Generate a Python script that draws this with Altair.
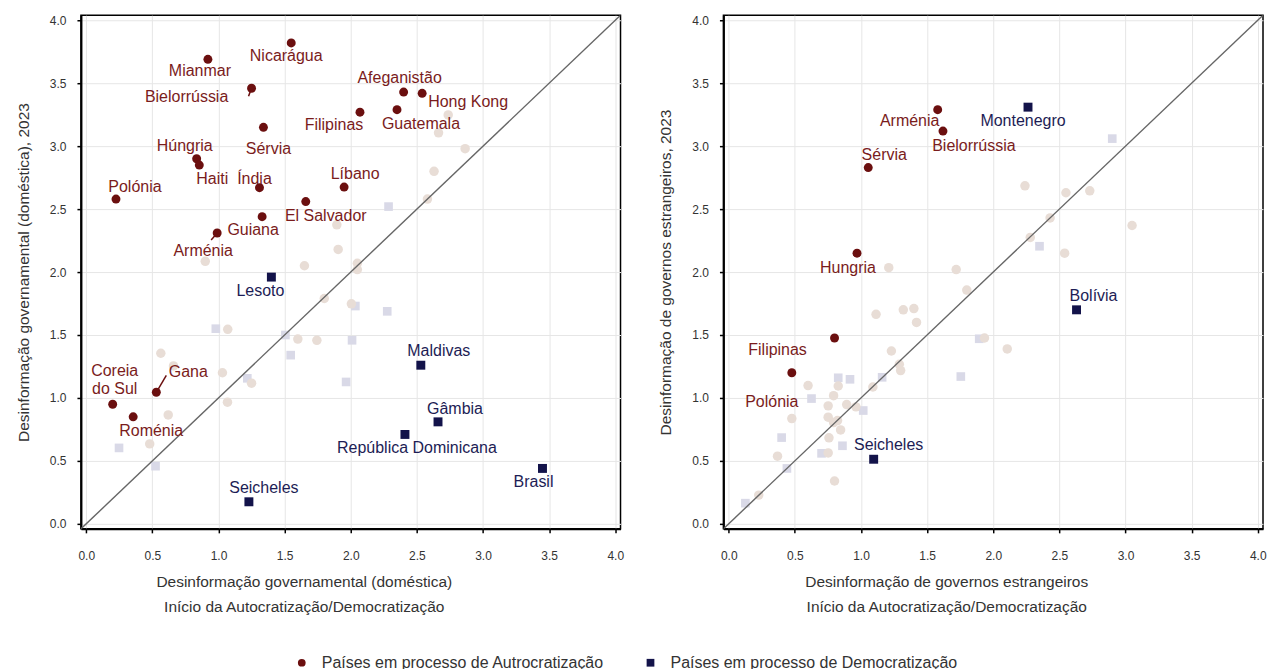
import altair as alt
import pandas as pd

AUTO = "Países em processo de Autrocratização"
DEMO = "Países em processo de Democratização"

# ---------------- Left panel: domestic disinformation ----------------
L_AUTO_NAMES = ["Nicarágua", "Mianmar", "Bielorrússia", "Sérvia", "Filipinas", "Afeganistão",
                "Hong Kong", "Guatemala", "Húngria", "Haiti", "Índia", "Líbano", "Polónia",
                "El Salvador", "Guiana", "Arménia", "Coreia do Sul", "Gana", "Roménia"]
L_AUTO_X = [1.55, 0.92, 1.25, 1.34, 2.07, 2.40, 2.54, 2.35, 0.835, 0.855, 1.31, 1.95, 0.225,
            1.66, 1.33, 0.99, 0.20, 0.53, 0.355]
L_AUTO_Y = [3.82, 3.69, 3.46, 3.15, 3.27, 3.43, 3.42, 3.29, 2.90, 2.85, 2.67, 2.675, 2.58,
            2.56, 2.44, 2.31, 0.95, 1.045, 0.85]

L_DEMO_NAMES = ["Lesoto", "Seicheles", "Maldivas", "Gâmbia", "República Dominicana", "Brasil"]
L_DEMO_X = [1.40, 1.23, 2.53, 2.66, 2.41, 3.45]
L_DEMO_Y = [1.96, 0.175, 1.26, 0.81, 0.71, 0.44]

L_BG_CIRCLE_X = [2.664, 2.865, 2.63, 2.58, 1.895, 1.905, 2.05, 2.05, 0.90, 1.65, 1.80, 2.005,
                 1.07, 1.60, 1.744, 0.564, 0.66, 1.03, 1.25, 1.068, 0.62, 0.48, 2.737]
L_BG_CIRCLE_Y = [3.106, 2.98, 2.80, 2.58, 2.375, 2.18, 2.07, 2.02, 2.085, 2.05, 1.79, 1.748,
                 1.545, 1.468, 1.458, 1.355, 1.254, 1.20, 1.117, 0.966, 0.865, 0.635, 3.248]
L_BG_SQUARE_X = [2.035, 0.98, 1.506, 2.01, 1.546, 1.218, 1.965, 0.248, 0.524, 2.276, 2.286]
L_BG_SQUARE_Y = [1.73, 1.55, 1.50, 1.458, 1.34, 1.156, 1.127, 0.603, 0.458, 1.688, 2.52]

# ---------------- Right panel: foreign-government disinformation ----------------
R_AUTO_NAMES = ["Arménia", "Bielorrússia", "Sérvia", "Hungria", "Filipinas", "Polónia"]
R_AUTO_X = [1.58, 1.62, 1.055, 0.97, 0.80, 0.477]
R_AUTO_Y = [3.29, 3.12, 2.83, 2.15, 1.476, 1.20]

R_DEMO_NAMES = ["Montenegro", "Bolívia", "Seicheles"]
R_DEMO_X = [2.263, 2.63, 1.096]
R_DEMO_Y = [3.31, 1.70, 0.513]

R_BG_CIRCLE_X = [2.24, 2.55, 2.73, 2.43, 3.05, 2.28, 2.54, 1.72, 1.21, 1.80, 1.114, 1.32, 1.40,
                 1.42, 1.934, 1.23, 1.29, 1.30, 1.09, 2.106, 0.60, 0.828, 0.793, 0.752, 0.892,
                 0.962, 0.477, 0.752, 0.793, 0.823, 0.846, 0.758, 0.752, 0.369, 0.80, 0.227]
R_BG_CIRCLE_Y = [2.685, 2.63, 2.645, 2.43, 2.37, 2.275, 2.15, 2.02, 2.035, 1.857, 1.664, 1.70,
                 1.71, 1.60, 1.476, 1.373, 1.267, 1.217, 1.087, 1.389, 1.098, 1.095, 1.018,
                 0.937, 0.947, 0.929, 0.836, 0.847, 0.804, 0.82, 0.746, 0.683, 0.563, 0.537,
                 0.34, 0.228]
R_BG_SQUARE_X = [2.90, 2.35, 1.894, 1.16, 1.755, 0.828, 0.917, 0.626, 1.017, 0.40, 0.86, 0.702,
                 0.44, 0.126]
R_BG_SQUARE_Y = [3.06, 2.205, 1.47, 1.164, 1.17, 1.16, 1.148, 0.995, 0.90, 0.685, 0.62, 0.56,
                 0.44, 0.164]

TICKS = [0.0, 0.5, 1.0, 1.5, 2.0, 2.5, 3.0, 3.5, 4.0]

# ---------------- styling (label offsets in pixels) ----------------
L_OFFSETS = {
    "Nicarágua": (-5, 13), "Mianmar": (-8, 12), "Bielorrússia": (-65, 9), "Sérvia": (5, 22),
    "Filipinas": (-26, 13), "Afeganistão": (-4, -14), "Hong Kong": (46, 9), "Guatemala": (24, 14),
    "Húngria": (-12, -13), "Haiti": (13, 14), "Índia": (-5, -9), "Líbano": (11, -13),
    "Polónia": (19, -12), "El Salvador": (20, 14), "Guiana": (-9, 13), "Arménia": (-14, 18),
    "Coreia do Sul": (2, -33), "Gana": (32, -20), "Roménia": (18, 14),
    "Lesoto": (-11, 14), "Seicheles": (15, -14), "Maldivas": (18, -14), "Gâmbia": (17, -13),
    "República Dominicana": (12, 14), "Brasil": (-9, 14),
}
R_OFFSETS = {
    "Arménia": (-28, 11), "Bielorrússia": (31, 15), "Sérvia": (16, -13), "Hungria": (-9, 15),
    "Filipinas": (-57, 12), "Polónia": (-20, 29),
    "Montenegro": (-5, 14), "Bolívia": (17, -14), "Seicheles": (15, -14),
}
L_LEADERS = {"Gana": (10, -17), "Arménia": (-6, 7), "Bielorrússia": (-3, 8)}
R_LEADERS = {}
DISPLAY = {"Coreia do Sul": "Coreia\ndo Sul"}

RED = "#6b0f0f"
NAVY = "#13134a"
RED_TXT = "#7a1c1c"
NAVY_TXT = "#1d1d55"
BG_CIRCLE = "#e8ddd6"
BG_SQUARE = "#d9d9e7"

W, H = 540, 514
DOM = [-0.04, 4.04]
PXX = W / (DOM[1] - DOM[0])
PXY = H / (DOM[1] - DOM[0])
FONT = "Liberation Sans"


def panel(auto_n, auto_x, auto_y, demo_n, demo_x, demo_y, bcx, bcy, bsx, bsy,
          offsets, leaders, xtitle, ytitle):
    X = alt.X("x:Q", scale=alt.Scale(domain=DOM, nice=False, zero=False),
              axis=alt.Axis(title=xtitle, values=TICKS, format=".1f", titleX=223,
                            titleAlign="center", titleLineHeight=25))
    Y = alt.Y("y:Q", scale=alt.Scale(domain=DOM, nice=False, zero=False),
              axis=alt.Axis(title=ytitle, values=TICKS, format=".1f"))

    bg_sq = alt.Chart(pd.DataFrame({"x": bsx, "y": bsy})).mark_point(
        shape="square", filled=True, opacity=1, size=75, color=BG_SQUARE
    ).encode(x=X, y=Y)
    bg_ci = alt.Chart(pd.DataFrame({"x": bcx, "y": bcy})).mark_point(
        shape="circle", filled=True, opacity=1, size=90, color=BG_CIRCLE
    ).encode(x=X, y=Y)
    diag = alt.Chart(pd.DataFrame({"x": DOM, "y": DOM})).mark_line(
        color="#666666", strokeWidth=1.4, clip=True
    ).encode(x=X, y=Y)

    names = auto_n + demo_n
    xs = auto_x + demo_x
    ys = auto_y + demo_y
    groups = [AUTO] * len(auto_n) + [DEMO] * len(demo_n)
    hl_df = pd.DataFrame({"x": xs, "y": ys, "grupo": groups, "nome": names})

    layers = [bg_sq, bg_ci, diag]

    for n, (ldx, ldy) in leaders.items():
        i = names.index(n)
        col = RED if groups[i] == AUTO else NAVY
        ldf = pd.DataFrame({"x": [xs[i]], "y": [ys[i]],
                            "x2": [xs[i] + ldx / PXX], "y2": [ys[i] - ldy / PXY]})
        layers.append(alt.Chart(ldf).mark_rule(color=col, strokeWidth=1.5).encode(
            x=X, y=Y, x2="x2:Q", y2="y2:Q"))

    legend = alt.Legend(title=None, orient="none", legendX=213, legendY=640,
                        direction="horizontal", labelFontSize=16, labelColor="#333333",
                        symbolSize=60, labelOffset=12, columnPadding=38, labelLimit=400)
    hl = alt.Chart(hl_df).mark_point(filled=True, opacity=1, size=80).encode(
        x=X, y=Y,
        color=alt.Color("grupo:N", scale=alt.Scale(domain=[AUTO, DEMO], range=[RED, NAVY]),
                        legend=legend),
        shape=alt.Shape("grupo:N", scale=alt.Scale(domain=[AUTO, DEMO],
                                                   range=["circle", "square"]),
                        legend=legend),
    )
    layers.append(hl)

    for i, n in enumerate(names):
        dx, dy = offsets[n]
        col = RED_TXT if groups[i] == AUTO else NAVY_TXT
        tdf = pd.DataFrame({"x": [xs[i]], "y": [ys[i]], "t": [DISPLAY.get(n, n)]})
        layers.append(alt.Chart(tdf).mark_text(
            dx=dx, dy=dy, fontSize=16, color=col, align="center", baseline="middle",
            lineBreak="\n", lineHeight=18, font=FONT
        ).encode(x=X, y=Y, text="t:N"))

    return alt.layer(*layers).properties(width=W, height=H)


left = panel(L_AUTO_NAMES, L_AUTO_X, L_AUTO_Y, L_DEMO_NAMES, L_DEMO_X, L_DEMO_Y,
             L_BG_CIRCLE_X, L_BG_CIRCLE_Y, L_BG_SQUARE_X, L_BG_SQUARE_Y,
             L_OFFSETS, L_LEADERS,
             ["Desinformação governamental (doméstica)", "Início da Autocratização/Democratização"],
             "Desinformação governamental (doméstica), 2023")
right = panel(R_AUTO_NAMES, R_AUTO_X, R_AUTO_Y, R_DEMO_NAMES, R_DEMO_X, R_DEMO_Y,
              R_BG_CIRCLE_X, R_BG_CIRCLE_Y, R_BG_SQUARE_X, R_BG_SQUARE_Y,
              R_OFFSETS, R_LEADERS,
              ["Desinformação de governos estrangeiros", "Início da Autocratização/Democratização"],
              "Desinformação de governos estrangeiros, 2023")

chart = alt.hconcat(left, right, spacing=33).properties(
    padding={"left": 7, "top": 5, "right": 5, "bottom": 5}
).configure(
    font=FONT
).configure_view(
    stroke="black", strokeWidth=1.5
).configure_axis(
    domainColor="black", domainWidth=2, tickColor="black", tickWidth=1.5, tickSize=4,
    gridColor="#e6e6e6", gridWidth=1, labelFontSize=12, labelColor="#333333",
    titleFontSize=15.5, titleFontWeight="normal", titleColor="#333333"
).configure_axisX(
    labelPadding=18, titlePadding=13
).configure_axisY(
    labelPadding=11, titlePadding=18
)

chart.save("out.html", embed_options={"renderer": "svg", "actions": False})
